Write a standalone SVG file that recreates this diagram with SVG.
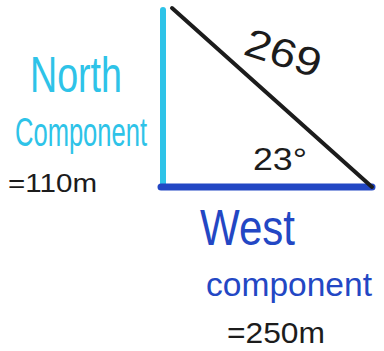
<svg xmlns="http://www.w3.org/2000/svg" width="384" height="351" viewBox="0 0 384 351">
<style>
.t{font-family:"Liberation Sans","DejaVu Sans",sans-serif;}
.cy{fill:#2ec3e8;}
.bl{fill:#2347c4;}
.bk{fill:#1c1c1c;}
</style>
<rect width="384" height="351" fill="#ffffff"/>
<g id="connectors" stroke-linecap="round">
<line id="north-side" x1="163" y1="10" x2="163" y2="186" stroke="#2ec3e8" stroke-width="6"/>
<line id="west-side" x1="161" y1="187" x2="372" y2="187" stroke="#2347c4" stroke-width="7"/>
<line id="hypotenuse" x1="172" y1="8" x2="372" y2="187" stroke="#1c1c1c" stroke-width="4"/>
</g>
<g id="north-label">
<text class="t cy" x="30" y="92" font-size="50" textLength="92" lengthAdjust="spacingAndGlyphs">North</text>
<text class="t cy" x="15" y="146" font-size="40" textLength="132" lengthAdjust="spacingAndGlyphs">Component</text>
<text class="t bk" x="8" y="192" font-size="26" textLength="89" lengthAdjust="spacingAndGlyphs">=110m</text>
</g>
<g id="hyp-label">
<text class="t bk" x="0" y="0" font-size="40" textLength="78" lengthAdjust="spacingAndGlyphs" transform="translate(242,54) rotate(18)">269</text>
</g>
<g id="angle-label">
<text class="t bk" x="253" y="170" font-size="32" textLength="54" lengthAdjust="spacingAndGlyphs">23°</text>
</g>
<g id="west-label">
<text class="t bl" x="200" y="245" font-size="50" textLength="95" lengthAdjust="spacingAndGlyphs">West</text>
<text class="t bl" x="206" y="296" font-size="34" textLength="166" lengthAdjust="spacingAndGlyphs">component</text>
<text class="t bk" x="227" y="343" font-size="30" textLength="98" lengthAdjust="spacingAndGlyphs">=250m</text>
</g>
</svg>
